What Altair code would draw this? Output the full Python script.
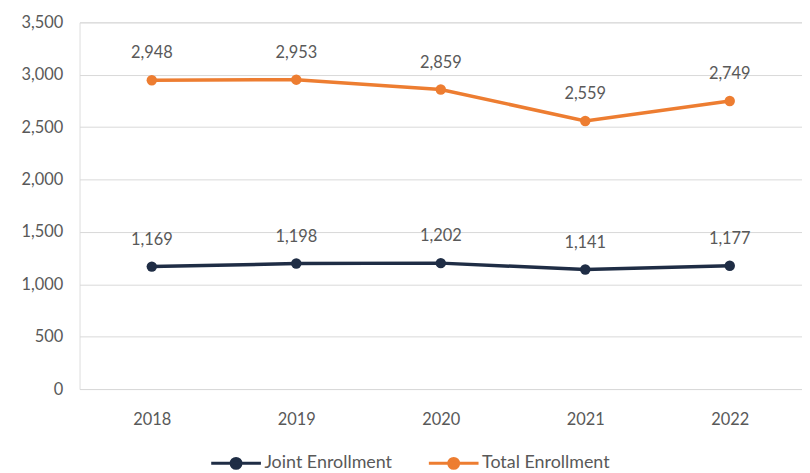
import altair as alt
import pandas as pd

years = ["2018", "2019", "2020", "2021", "2022"]
joint = [1169, 1198, 1202, 1141, 1177]
total = [2948, 2953, 2859, 2559, 2749]
series_names = ["Joint Enrollment", "Total Enrollment"]
colors = ["#1F2D45", "#ED7D31"]

rows = []
for y, j, t in zip(years, joint, total):
    rows.append({"Year": y, "Series": series_names[0], "Value": j})
    rows.append({"Year": y, "Series": series_names[1], "Value": t})
df = pd.DataFrame(rows)

FONT = "Lato"
TXT = "#595959"
FS = 16.5

x = alt.X("Year:N", title=None, sort=years,
          scale=alt.Scale(type="point", padding=0.5),
          axis=alt.Axis(labelAngle=0, labelFontSize=FS, labelColor=TXT, labelFont=FONT,
                        ticks=False, domain=False, labelPadding=23, grid=False))
y = alt.Y("Value:Q", title=None, scale=alt.Scale(domain=[0, 3500], nice=False),
          axis=alt.Axis(values=list(range(0, 3501, 500)), format=",d", labelFontSize=FS,
                        labelColor=TXT, labelFont=FONT, ticks=False, domain=False,
                        labelPadding=17, gridColor="#D9D9D9", gridWidth=1))
color = alt.Color("Series:N", sort=series_names,
                  scale=alt.Scale(domain=series_names, range=colors),
                  legend=alt.Legend(title=None, orient="none", direction="horizontal",
                                    legendX=131, legendY=417,
                                    symbolType="M-1,0L1,0M0.2,0A0.2,0.2,0,1,1,-0.2,0A0.2,0.2,0,1,1,0.2,0Z",
                                    symbolSize=2500, symbolStrokeWidth=3,
                                    labelFontSize=18, labelColor=TXT, labelFont=FONT,
                                    labelOffset=2, columnPadding=30, labelLimit=300))

lines = alt.Chart(df).mark_line(strokeWidth=3.5, point=alt.OverlayMarkDef(size=110, filled=True, opacity=1)).encode(
    x=x, y=y, color=color)

labels = alt.Chart(df).mark_text(dy=-27, fontSize=FS, color=TXT, font=FONT).encode(
    x=alt.X("Year:N", sort=years, scale=alt.Scale(type="point", padding=0.5)),
    y="Value:Q",
    text=alt.Text("Value:Q", format=","))

chart = alt.layer(lines, labels).properties(
    width=727, height=369,
    autosize=alt.AutoSizeParams(type="none"),
    padding={"left": 72, "top": 13, "right": 0, "bottom": 82},
).configure_view(stroke=None).configure(background="white")

chart.save("out.html", embed_options={"renderer": "svg", "actions": False})
